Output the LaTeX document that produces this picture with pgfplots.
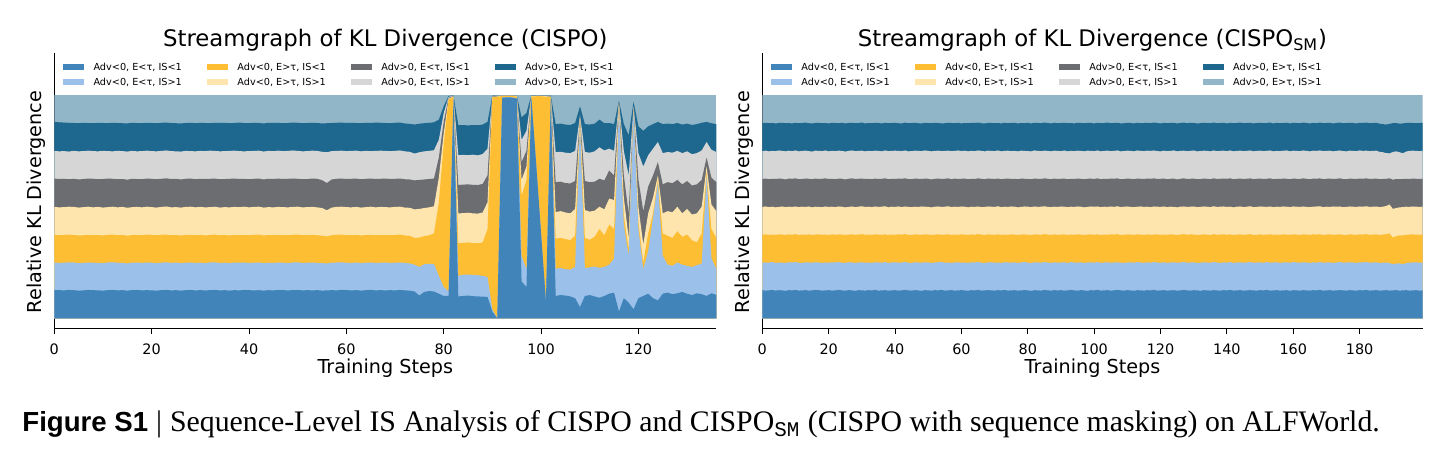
\documentclass[border=0pt]{standalone}
\usepackage{fontspec}
\setmainfont{DejaVu Sans}
\newfontfamily\capserif{Liberation Serif}
\newfontfamily\capsans{Liberation Sans}
\newfontfamily\capmono{Liberation Mono}
\usepackage{pgfplots}
\usepackage{pgfplotstable}
\pgfplotsset{compat=1.18}

\definecolor{cDB}{RGB}{64,132,186}
\definecolor{cLB}{RGB}{155,192,233}
\definecolor{cOR}{RGB}{254,190,52}
\definecolor{cLY}{RGB}{253,229,173}
\definecolor{cDG}{RGB}{107,109,112}
\definecolor{cLG}{RGB}{214,214,214}
\definecolor{cDT}{RGB}{30,104,143}
\definecolor{cLT}{RGB}{144,182,199}

% cumulative share of the KL divergence: upper edge of layers 1..7 (layer 8 ends at 1)
\pgfplotstableread{
x b1 b2 b3 b4 b5 b6 b7
0 0.127 0.250 0.374 0.499 0.626 0.750 0.880
1 0.126 0.248 0.372 0.497 0.624 0.748 0.878
2 0.125 0.249 0.373 0.498 0.625 0.749 0.877
3 0.127 0.251 0.375 0.500 0.623 0.747 0.876
4 0.126 0.250 0.373 0.499 0.625 0.750 0.875
5 0.124 0.247 0.371 0.496 0.622 0.748 0.874
6 0.125 0.248 0.372 0.498 0.624 0.749 0.876
7 0.127 0.250 0.374 0.500 0.626 0.751 0.875
8 0.126 0.249 0.372 0.497 0.625 0.749 0.874
9 0.125 0.248 0.373 0.499 0.623 0.748 0.876
10 0.124 0.247 0.371 0.496 0.624 0.750 0.875
11 0.126 0.250 0.374 0.498 0.626 0.749 0.874
12 0.127 0.251 0.375 0.500 0.625 0.748 0.876
13 0.125 0.249 0.372 0.497 0.623 0.750 0.875
14 0.126 0.248 0.373 0.499 0.624 0.749 0.874
15 0.124 0.246 0.370 0.495 0.621 0.747 0.873
16 0.126 0.249 0.373 0.498 0.625 0.750 0.876
17 0.127 0.250 0.374 0.499 0.624 0.748 0.875
18 0.125 0.248 0.372 0.497 0.623 0.749 0.874
19 0.126 0.250 0.375 0.500 0.626 0.751 0.876
20 0.125 0.249 0.373 0.498 0.625 0.749 0.875
21 0.124 0.247 0.372 0.496 0.623 0.748 0.874
22 0.126 0.249 0.374 0.499 0.625 0.750 0.876
23 0.127 0.251 0.375 0.501 0.627 0.752 0.877
24 0.125 0.248 0.372 0.497 0.624 0.749 0.875
25 0.126 0.250 0.373 0.498 0.625 0.748 0.874
26 0.124 0.247 0.371 0.496 0.622 0.747 0.873
27 0.126 0.249 0.373 0.499 0.625 0.750 0.875
28 0.127 0.250 0.374 0.500 0.626 0.749 0.876
29 0.125 0.248 0.372 0.497 0.623 0.748 0.874
30 0.126 0.249 0.374 0.499 0.625 0.750 0.876
31 0.125 0.247 0.371 0.497 0.624 0.749 0.875
32 0.126 0.250 0.373 0.498 0.625 0.751 0.874
33 0.127 0.251 0.375 0.500 0.626 0.750 0.876
34 0.125 0.248 0.372 0.496 0.623 0.748 0.875
35 0.126 0.249 0.373 0.498 0.624 0.749 0.876
36 0.124 0.247 0.371 0.497 0.625 0.750 0.874
37 0.126 0.250 0.374 0.499 0.626 0.751 0.875
38 0.125 0.249 0.372 0.498 0.624 0.749 0.877
39 0.127 0.250 0.373 0.500 0.625 0.748 0.875
40 0.126 0.248 0.372 0.497 0.623 0.749 0.874
41 0.125 0.249 0.374 0.499 0.625 0.750 0.876
42 0.126 0.250 0.375 0.500 0.626 0.751 0.875
43 0.124 0.247 0.371 0.496 0.622 0.747 0.873
44 0.126 0.249 0.373 0.498 0.625 0.750 0.876
45 0.125 0.248 0.372 0.497 0.624 0.749 0.875
46 0.127 0.250 0.374 0.499 0.626 0.751 0.876
47 0.126 0.249 0.373 0.498 0.624 0.749 0.874
48 0.125 0.247 0.372 0.497 0.625 0.750 0.875
49 0.126 0.250 0.374 0.499 0.626 0.752 0.877
50 0.127 0.251 0.375 0.500 0.625 0.750 0.876
51 0.125 0.248 0.372 0.497 0.623 0.748 0.874
52 0.126 0.249 0.373 0.498 0.624 0.749 0.875
53 0.125 0.250 0.374 0.499 0.626 0.751 0.876
54 0.126 0.248 0.372 0.497 0.625 0.750 0.875
55 0.124 0.247 0.370 0.494 0.619 0.746 0.873
56 0.125 0.246 0.367 0.484 0.606 0.744 0.874
57 0.126 0.249 0.372 0.496 0.622 0.749 0.875
58 0.125 0.250 0.374 0.499 0.625 0.750 0.876
59 0.127 0.251 0.375 0.500 0.626 0.751 0.877
60 0.126 0.249 0.373 0.498 0.624 0.749 0.875
61 0.125 0.248 0.372 0.497 0.625 0.750 0.876
62 0.126 0.250 0.374 0.499 0.626 0.751 0.875
63 0.124 0.247 0.371 0.496 0.623 0.748 0.874
64 0.126 0.249 0.373 0.498 0.625 0.750 0.876
65 0.127 0.250 0.374 0.500 0.626 0.749 0.875
66 0.125 0.248 0.372 0.497 0.624 0.750 0.877
67 0.126 0.249 0.373 0.499 0.625 0.751 0.876
68 0.125 0.250 0.374 0.498 0.626 0.750 0.875
69 0.126 0.248 0.372 0.497 0.624 0.749 0.874
70 0.125 0.249 0.373 0.499 0.625 0.750 0.876
71 0.127 0.250 0.375 0.500 0.626 0.752 0.877
72 0.125 0.248 0.371 0.496 0.623 0.748 0.873
73 0.124 0.246 0.370 0.495 0.622 0.746 0.871
74 0.120 0.240 0.360 0.488 0.618 0.738 0.868
75 0.102 0.230 0.362 0.490 0.620 0.744 0.872
76 0.118 0.242 0.368 0.494 0.622 0.748 0.874
77 0.122 0.244 0.372 0.497 0.624 0.750 0.876
78 0.120 0.243 0.380 0.502 0.626 0.753 0.878
79 0.110 0.190 0.520 0.630 0.720 0.800 0.890
80 0.100 0.140 0.780 0.830 0.880 0.920 0.950
81 0.100 0.120 0.980 0.984 0.988 0.992 0.996
82 0.988 0.990 0.992 0.994 0.996 0.998 0.999
83 0.098 0.190 0.336 0.470 0.597 0.731 0.865
84 0.100 0.195 0.338 0.471 0.599 0.732 0.866
85 0.102 0.196 0.340 0.473 0.600 0.731 0.864
86 0.099 0.194 0.337 0.470 0.598 0.733 0.866
87 0.098 0.193 0.336 0.469 0.597 0.730 0.865
88 0.097 0.190 0.340 0.474 0.602 0.736 0.868
89 0.096 0.185 0.400 0.520 0.640 0.760 0.880
90 0.030 0.040 0.990 0.992 0.994 0.996 0.998
91 0.000 0.000 0.992 0.994 0.996 0.998 0.999
92 0.988 0.989 0.996 0.997 0.998 0.999 0.999
93 0.990 0.991 0.996 0.997 0.998 0.999 0.999
94 0.989 0.990 0.996 0.997 0.998 0.999 0.999
95 0.985 0.986 0.994 0.996 0.997 0.998 0.999
96 0.165 0.280 0.550 0.620 0.700 0.800 0.900
97 0.140 0.220 0.620 0.680 0.750 0.840 0.920
98 0.990 0.991 0.993 0.995 0.997 0.998 0.999
99 0.690 0.690 0.995 0.996 0.997 0.998 0.999
100 0.380 0.380 0.995 0.996 0.997 0.998 0.999
101 0.076 0.076 0.993 0.995 0.997 0.998 0.999
102 0.985 0.986 0.990 0.993 0.995 0.997 0.999
103 0.100 0.222 0.357 0.476 0.610 0.744 0.870
104 0.104 0.225 0.360 0.480 0.612 0.746 0.872
105 0.102 0.220 0.355 0.474 0.606 0.742 0.868
106 0.098 0.218 0.350 0.470 0.604 0.740 0.866
107 0.090 0.230 0.370 0.490 0.615 0.750 0.875
108 0.050 0.880 0.890 0.895 0.900 0.910 0.950
109 0.100 0.225 0.360 0.485 0.615 0.745 0.870
110 0.104 0.228 0.352 0.478 0.610 0.742 0.868
111 0.098 0.232 0.365 0.482 0.612 0.748 0.872
112 0.092 0.226 0.400 0.500 0.625 0.766 0.890
113 0.100 0.230 0.372 0.488 0.618 0.752 0.874
114 0.110 0.240 0.420 0.536 0.662 0.760 0.875
115 0.115 0.268 0.400 0.530 0.640 0.750 0.870
116 0.030 0.950 0.955 0.960 0.965 0.970 0.975
117 0.090 0.420 0.460 0.540 0.640 0.750 0.870
118 0.070 0.280 0.310 0.360 0.470 0.640 0.820
119 0.040 0.930 0.935 0.940 0.945 0.950 0.970
120 0.090 0.400 0.430 0.500 0.620 0.740 0.860
121 0.100 0.220 0.250 0.330 0.480 0.680 0.840
122 0.110 0.300 0.380 0.470 0.590 0.730 0.860
123 0.090 0.450 0.470 0.540 0.640 0.760 0.870
124 0.080 0.610 0.625 0.640 0.700 0.790 0.880
125 0.110 0.280 0.380 0.470 0.600 0.740 0.870
126 0.115 0.240 0.370 0.480 0.610 0.745 0.872
127 0.108 0.235 0.360 0.475 0.605 0.742 0.870
128 0.112 0.250 0.390 0.500 0.620 0.750 0.875
129 0.118 0.240 0.365 0.470 0.600 0.740 0.868
130 0.110 0.235 0.375 0.490 0.615 0.748 0.872
131 0.104 0.230 0.350 0.465 0.595 0.735 0.866
132 0.112 0.238 0.340 0.470 0.600 0.740 0.870
133 0.108 0.245 0.380 0.500 0.620 0.752 0.876
134 0.100 0.640 0.655 0.680 0.720 0.790 0.880
135 0.112 0.270 0.400 0.510 0.630 0.755 0.874
136 0.105 0.220 0.360 0.480 0.610 0.745 0.870
}\cispo

\pgfplotstableread{
x b1 b2 b3 b4 b5 b6 b7
0 0.126 0.251 0.374 0.499 0.624 0.749 0.874
1 0.124 0.249 0.376 0.501 0.626 0.751 0.876
2 0.125 0.250 0.373 0.498 0.623 0.748 0.874
3 0.127 0.252 0.375 0.500 0.625 0.750 0.875
4 0.124 0.248 0.374 0.497 0.624 0.749 0.873
5 0.126 0.250 0.376 0.499 0.626 0.752 0.875
6 0.125 0.249 0.375 0.501 0.625 0.750 0.876
7 0.123 0.248 0.373 0.498 0.622 0.748 0.874
8 0.126 0.251 0.376 0.500 0.626 0.751 0.875
9 0.125 0.250 0.374 0.499 0.625 0.749 0.873
10 0.127 0.252 0.377 0.501 0.627 0.752 0.876
11 0.124 0.249 0.373 0.498 0.623 0.748 0.874
12 0.125 0.248 0.375 0.500 0.624 0.750 0.875
13 0.126 0.251 0.374 0.499 0.626 0.751 0.877
14 0.124 0.250 0.376 0.501 0.625 0.749 0.874
15 0.125 0.249 0.373 0.497 0.623 0.747 0.873
16 0.127 0.251 0.375 0.500 0.626 0.751 0.875
17 0.126 0.250 0.376 0.499 0.624 0.750 0.876
18 0.124 0.248 0.374 0.498 0.625 0.749 0.874
19 0.125 0.250 0.375 0.501 0.627 0.752 0.875
20 0.126 0.249 0.373 0.499 0.624 0.748 0.873
21 0.124 0.251 0.376 0.500 0.625 0.750 0.876
22 0.125 0.250 0.374 0.498 0.623 0.749 0.875
23 0.127 0.252 0.376 0.501 0.626 0.751 0.874
24 0.125 0.249 0.375 0.500 0.625 0.750 0.876
25 0.124 0.248 0.373 0.497 0.622 0.747 0.873
26 0.126 0.251 0.375 0.499 0.625 0.750 0.875
27 0.125 0.250 0.376 0.501 0.627 0.752 0.876
28 0.123 0.248 0.374 0.498 0.624 0.749 0.874
29 0.126 0.250 0.375 0.500 0.625 0.750 0.875
30 0.125 0.251 0.377 0.502 0.626 0.751 0.877
31 0.124 0.249 0.374 0.499 0.624 0.748 0.873
32 0.126 0.250 0.375 0.500 0.625 0.750 0.875
33 0.125 0.248 0.373 0.498 0.623 0.749 0.874
34 0.127 0.251 0.376 0.501 0.626 0.751 0.876
35 0.124 0.250 0.375 0.499 0.624 0.750 0.875
36 0.125 0.249 0.374 0.500 0.625 0.748 0.873
37 0.126 0.252 0.376 0.502 0.627 0.752 0.876
38 0.124 0.248 0.373 0.497 0.623 0.749 0.874
39 0.125 0.250 0.375 0.500 0.625 0.750 0.875
40 0.126 0.251 0.374 0.499 0.624 0.751 0.876
41 0.124 0.249 0.376 0.501 0.626 0.750 0.874
42 0.125 0.250 0.375 0.498 0.625 0.749 0.873
43 0.127 0.252 0.377 0.501 0.627 0.752 0.877
44 0.125 0.249 0.374 0.499 0.624 0.748 0.874
45 0.124 0.248 0.373 0.498 0.623 0.749 0.875
46 0.126 0.251 0.376 0.500 0.626 0.751 0.876
47 0.125 0.250 0.375 0.499 0.625 0.750 0.874
48 0.123 0.249 0.374 0.501 0.624 0.749 0.873
49 0.126 0.251 0.376 0.500 0.626 0.752 0.876
50 0.125 0.250 0.375 0.499 0.625 0.750 0.875
51 0.124 0.248 0.373 0.497 0.622 0.748 0.874
52 0.126 0.250 0.375 0.500 0.625 0.750 0.876
53 0.125 0.251 0.376 0.501 0.626 0.751 0.875
54 0.127 0.252 0.374 0.499 0.624 0.749 0.873
55 0.124 0.249 0.375 0.500 0.625 0.750 0.874
56 0.125 0.250 0.376 0.502 0.627 0.751 0.876
57 0.126 0.248 0.373 0.498 0.623 0.749 0.875
58 0.124 0.250 0.375 0.500 0.626 0.750 0.874
59 0.125 0.251 0.374 0.499 0.624 0.752 0.876
60 0.126 0.249 0.376 0.501 0.625 0.749 0.873
61 0.125 0.250 0.375 0.500 0.626 0.751 0.875
62 0.123 0.248 0.373 0.497 0.623 0.748 0.874
63 0.126 0.251 0.376 0.500 0.625 0.750 0.876
64 0.125 0.250 0.374 0.499 0.624 0.749 0.875
65 0.127 0.252 0.377 0.501 0.627 0.752 0.877
66 0.124 0.249 0.375 0.498 0.625 0.750 0.874
67 0.125 0.248 0.373 0.499 0.623 0.748 0.873
68 0.126 0.250 0.376 0.501 0.626 0.751 0.875
69 0.125 0.251 0.375 0.500 0.625 0.750 0.876
70 0.124 0.249 0.374 0.499 0.624 0.749 0.874
71 0.126 0.250 0.376 0.502 0.626 0.752 0.875
72 0.125 0.248 0.373 0.498 0.623 0.748 0.873
73 0.127 0.251 0.375 0.500 0.625 0.750 0.876
74 0.124 0.250 0.374 0.499 0.626 0.751 0.874
75 0.125 0.249 0.376 0.501 0.624 0.749 0.875
76 0.126 0.251 0.375 0.500 0.625 0.750 0.876
77 0.124 0.248 0.373 0.497 0.623 0.748 0.873
78 0.125 0.250 0.375 0.499 0.626 0.751 0.875
79 0.126 0.252 0.376 0.501 0.625 0.750 0.874
80 0.125 0.249 0.374 0.500 0.624 0.749 0.876
81 0.123 0.248 0.373 0.498 0.623 0.748 0.873
82 0.126 0.251 0.376 0.501 0.626 0.752 0.876
83 0.125 0.250 0.375 0.499 0.625 0.750 0.875
84 0.124 0.249 0.374 0.500 0.624 0.749 0.874
85 0.127 0.252 0.377 0.502 0.627 0.751 0.877
86 0.125 0.250 0.375 0.499 0.625 0.750 0.875
87 0.124 0.248 0.373 0.498 0.623 0.748 0.873
88 0.126 0.251 0.376 0.500 0.626 0.751 0.876
89 0.125 0.249 0.374 0.499 0.624 0.750 0.874
90 0.126 0.250 0.375 0.501 0.625 0.749 0.875
91 0.124 0.251 0.376 0.500 0.626 0.752 0.876
92 0.125 0.248 0.373 0.498 0.623 0.748 0.874
93 0.127 0.252 0.375 0.500 0.625 0.750 0.875
94 0.125 0.250 0.374 0.499 0.624 0.749 0.873
95 0.124 0.249 0.376 0.501 0.626 0.751 0.876
96 0.126 0.251 0.375 0.500 0.625 0.750 0.875
97 0.125 0.248 0.373 0.497 0.623 0.748 0.874
98 0.123 0.250 0.375 0.499 0.625 0.751 0.876
99 0.126 0.251 0.376 0.501 0.626 0.750 0.875
100 0.125 0.249 0.374 0.500 0.624 0.749 0.873
101 0.127 0.252 0.376 0.501 0.627 0.752 0.876
102 0.124 0.248 0.373 0.498 0.623 0.748 0.874
103 0.125 0.250 0.375 0.500 0.625 0.750 0.875
104 0.126 0.251 0.374 0.499 0.624 0.751 0.877
105 0.124 0.249 0.376 0.501 0.626 0.749 0.874
106 0.125 0.250 0.375 0.499 0.625 0.750 0.875
107 0.127 0.251 0.377 0.502 0.627 0.752 0.876
108 0.125 0.249 0.373 0.498 0.623 0.748 0.873
109 0.124 0.248 0.374 0.500 0.624 0.749 0.874
110 0.126 0.250 0.376 0.501 0.626 0.751 0.876
111 0.125 0.251 0.375 0.499 0.625 0.750 0.875
112 0.123 0.249 0.374 0.498 0.623 0.748 0.873
113 0.126 0.252 0.376 0.500 0.626 0.752 0.876
114 0.125 0.250 0.375 0.501 0.625 0.750 0.874
115 0.124 0.248 0.373 0.499 0.624 0.749 0.875
116 0.126 0.251 0.376 0.500 0.626 0.751 0.876
117 0.125 0.249 0.374 0.498 0.625 0.750 0.874
118 0.127 0.252 0.375 0.501 0.627 0.752 0.877
119 0.124 0.250 0.376 0.500 0.624 0.749 0.875
120 0.125 0.249 0.373 0.499 0.625 0.748 0.873
121 0.126 0.251 0.375 0.501 0.626 0.751 0.876
122 0.124 0.248 0.374 0.498 0.623 0.749 0.874
123 0.125 0.250 0.376 0.500 0.625 0.750 0.875
124 0.126 0.251 0.375 0.499 0.626 0.752 0.876
125 0.124 0.249 0.373 0.497 0.622 0.748 0.873
126 0.125 0.250 0.375 0.500 0.625 0.750 0.875
127 0.127 0.252 0.377 0.501 0.627 0.751 0.877
128 0.125 0.249 0.374 0.499 0.624 0.749 0.874
129 0.124 0.250 0.376 0.500 0.625 0.750 0.876
130 0.126 0.251 0.375 0.501 0.626 0.752 0.875
131 0.125 0.248 0.373 0.498 0.623 0.748 0.873
132 0.123 0.249 0.374 0.499 0.624 0.749 0.874
133 0.126 0.251 0.376 0.501 0.626 0.751 0.876
134 0.125 0.250 0.375 0.500 0.625 0.750 0.875
135 0.124 0.249 0.373 0.498 0.623 0.748 0.874
136 0.126 0.252 0.377 0.502 0.627 0.752 0.877
137 0.125 0.250 0.374 0.499 0.624 0.749 0.874
138 0.124 0.248 0.375 0.500 0.625 0.750 0.875
139 0.126 0.251 0.376 0.501 0.626 0.751 0.876
140 0.125 0.249 0.374 0.499 0.625 0.749 0.873
141 0.127 0.252 0.376 0.500 0.627 0.752 0.876
142 0.124 0.248 0.373 0.497 0.623 0.748 0.874
143 0.125 0.250 0.375 0.500 0.625 0.750 0.875
144 0.126 0.251 0.376 0.501 0.626 0.751 0.877
145 0.124 0.249 0.374 0.498 0.624 0.749 0.874
146 0.125 0.250 0.375 0.500 0.625 0.750 0.875
147 0.126 0.252 0.377 0.502 0.627 0.752 0.876
148 0.125 0.249 0.373 0.498 0.623 0.748 0.873
149 0.124 0.250 0.374 0.499 0.625 0.750 0.875
150 0.126 0.251 0.376 0.501 0.626 0.751 0.876
151 0.125 0.248 0.374 0.500 0.624 0.749 0.874
152 0.127 0.252 0.375 0.499 0.625 0.750 0.875
153 0.124 0.249 0.376 0.501 0.627 0.752 0.877
154 0.125 0.250 0.374 0.498 0.623 0.748 0.873
155 0.126 0.251 0.375 0.500 0.625 0.750 0.876
156 0.124 0.248 0.373 0.499 0.624 0.749 0.874
157 0.125 0.250 0.376 0.501 0.626 0.751 0.875
158 0.126 0.251 0.375 0.500 0.625 0.752 0.876
159 0.123 0.249 0.374 0.498 0.623 0.748 0.873
160 0.126 0.252 0.376 0.501 0.626 0.751 0.876
161 0.125 0.250 0.375 0.500 0.625 0.750 0.875
162 0.124 0.249 0.373 0.499 0.624 0.749 0.874
163 0.126 0.251 0.376 0.501 0.627 0.752 0.877
164 0.125 0.250 0.375 0.499 0.625 0.750 0.875
165 0.124 0.248 0.374 0.498 0.623 0.748 0.873
166 0.126 0.251 0.376 0.500 0.626 0.751 0.876
167 0.125 0.249 0.375 0.501 0.625 0.750 0.874
168 0.127 0.252 0.377 0.502 0.627 0.752 0.877
169 0.124 0.249 0.373 0.498 0.623 0.749 0.874
170 0.125 0.250 0.375 0.500 0.625 0.750 0.875
171 0.126 0.251 0.376 0.499 0.626 0.751 0.876
172 0.124 0.248 0.374 0.501 0.624 0.748 0.873
173 0.125 0.250 0.375 0.500 0.625 0.750 0.875
174 0.126 0.252 0.376 0.501 0.627 0.752 0.877
175 0.125 0.249 0.374 0.498 0.624 0.749 0.874
176 0.124 0.250 0.373 0.499 0.623 0.748 0.875
177 0.126 0.251 0.376 0.501 0.626 0.751 0.876
178 0.125 0.250 0.375 0.500 0.625 0.750 0.875
179 0.124 0.248 0.374 0.499 0.624 0.749 0.873
180 0.126 0.251 0.376 0.501 0.626 0.752 0.876
181 0.125 0.250 0.375 0.500 0.625 0.750 0.875
182 0.127 0.252 0.377 0.502 0.627 0.751 0.877
183 0.124 0.249 0.374 0.499 0.624 0.749 0.874
184 0.125 0.250 0.375 0.500 0.625 0.750 0.875
185 0.126 0.251 0.376 0.501 0.626 0.751 0.876
186 0.124 0.248 0.373 0.498 0.623 0.746 0.872
187 0.125 0.249 0.375 0.500 0.624 0.744 0.870
188 0.126 0.250 0.377 0.503 0.625 0.740 0.868
189 0.124 0.247 0.380 0.510 0.627 0.739 0.871
190 0.125 0.243 0.362 0.490 0.621 0.745 0.874
191 0.126 0.245 0.368 0.494 0.624 0.748 0.875
192 0.124 0.246 0.372 0.497 0.623 0.744 0.872
193 0.125 0.242 0.371 0.498 0.624 0.739 0.873
194 0.126 0.247 0.374 0.500 0.625 0.747 0.875
195 0.124 0.249 0.375 0.499 0.624 0.750 0.876
196 0.125 0.250 0.376 0.501 0.626 0.751 0.875
197 0.126 0.251 0.375 0.500 0.625 0.750 0.874
198 0.124 0.249 0.374 0.499 0.624 0.749 0.875
199 0.125 0.250 0.375 0.500 0.625 0.750 0.876
}\cisposm

\newcommand{\entry}[1]{\makebox[56.85pt][l]{#1}}

\pgfplotsset{
  sw/.style={legend image code/.code={\fill[#1] (0pt,-0.9pt) rectangle (10pt,2.0pt);}},
  stream/.style={
    scale only axis, height=138.15pt,
    ymin=-0.048, ymax=1.19,
    axis x line*=bottom, axis y line*=left,
    ytick=\empty,
    axis line style={line width=0.5pt, black},
    tick align=outside,
    major tick length=2.5pt,
    tick style={black, line width=0.5pt},
    /pgf/number format/assume math mode=true,
    ticklabel style={font=\fontsize{7.2}{9}\selectfont},
    xticklabel style={anchor=base, yshift=-10.5pt},
    xlabel={Training Steps},
    ylabel={Relative KL Divergence},
    xlabel style={at={(axis description cs:0.5,-0.161)}, anchor=base, font=\fontsize{9.6}{12}\selectfont},
    ylabel style={at={(axis description cs:-0.0187,0.46)}, anchor=base, font=\fontsize{9.6}{12}\selectfont},
    every axis title shift=0pt,
    title style={at={(axis description cs:0.5,1.024)}, anchor=base, font=\fontsize{11.4}{14}\selectfont},
    legend style={draw=none, fill=none, at={(axis description cs:0.0136,0.9616)}, anchor=north west,
      font=\fontsize{4.85}{5.8}\selectfont, inner sep=0pt, outer sep=0pt,
      nodes={inner sep=0pt, text height=3.7pt, text depth=1.0pt},
      /tikz/column sep=0pt,
      /tikz/row sep=2.8pt,
      /tikz/every odd column/.append style={column sep=4.7pt},
      /tikz/every even column/.append style={column sep=0pt}},
    legend columns=4,
    legend cell align=left,
  }
}

\newcommand{\streamlegend}{%
  \addlegendimage{sw=cDB}\addlegendentry{\entry{Adv<0, E<τ, IS<1}}
  \addlegendimage{sw=cOR}\addlegendentry{\entry{Adv<0, E>τ, IS<1}}
  \addlegendimage{sw=cDG}\addlegendentry{\entry{Adv>0, E<τ, IS<1}}
  \addlegendimage{sw=cDT}\addlegendentry{\entry{Adv>0, E>τ, IS<1}}
  \addlegendimage{sw=cLB}\addlegendentry{\entry{Adv<0, E<τ, IS>1}}
  \addlegendimage{sw=cLY}\addlegendentry{\entry{Adv<0, E>τ, IS>1}}
  \addlegendimage{sw=cLG}\addlegendentry{\entry{Adv>0, E<τ, IS>1}}
  \addlegendimage{sw=cLT}\addlegendentry{\entry{Adv>0, E>τ, IS>1}}
}

% layers painted from the top one down, each filled from its upper edge to zero
% #1 table, #2 last step
\newcommand{\streamlayers}[2]{%
  \addplot[fill=cLT, draw=none, forget plot] coordinates {(0,1) (#2,1)} \closedcycle;
  \addplot[fill=cDT, draw=none, forget plot] table[x=x, y=b7] {#1} \closedcycle;
  \addplot[fill=cLG, draw=none, forget plot] table[x=x, y=b6] {#1} \closedcycle;
  \addplot[fill=cDG, draw=none, forget plot] table[x=x, y=b5] {#1} \closedcycle;
  \addplot[fill=cLY, draw=none, forget plot] table[x=x, y=b4] {#1} \closedcycle;
  \addplot[fill=cOR, draw=none, forget plot] table[x=x, y=b3] {#1} \closedcycle;
  \addplot[fill=cLB, draw=none, forget plot] table[x=x, y=b2] {#1} \closedcycle;
  \addplot[fill=cDB, draw=none, forget plot] table[x=x, y=b1] {#1} \closedcycle;
}

\begin{document}
\begin{tikzpicture}
\useasboundingbox (0,0) rectangle (723pt,230pt);

\begin{axis}[stream, width=331pt, at={(27.15pt,65.5pt)}, anchor=south west,
  xmin=0, xmax=136, xtick={0,20,...,120},
  title={Streamgraph of KL Divergence (CISPO)}]
  \streamlegend
  \streamlayers{\cispo}{136}
\end{axis}

\begin{axis}[stream, width=330.2pt, at={(381.15pt,65.5pt)}, anchor=south west,
  xmin=0, xmax=199, xtick={0,20,...,180},
  title={Streamgraph of KL Divergence (CISPO\textsubscript{SM})}]
  \streamlegend
  \streamlayers{\cisposm}{199}
\end{axis}

\node[anchor=base west, inner sep=0pt] at (11pt,14pt)
  {{\fontsize{13.8}{16}\selectfont\capsans\bfseries Figure S1}\hspace{4pt}{\fontsize{14.9}{17}\selectfont\capserif |\hspace{4pt}Sequence-Level IS Analysis of CISPO and CISPO\textsubscript{\capmono SM} (CISPO with sequence masking) on ALFWorld.}};
\end{tikzpicture}
\end{document}
